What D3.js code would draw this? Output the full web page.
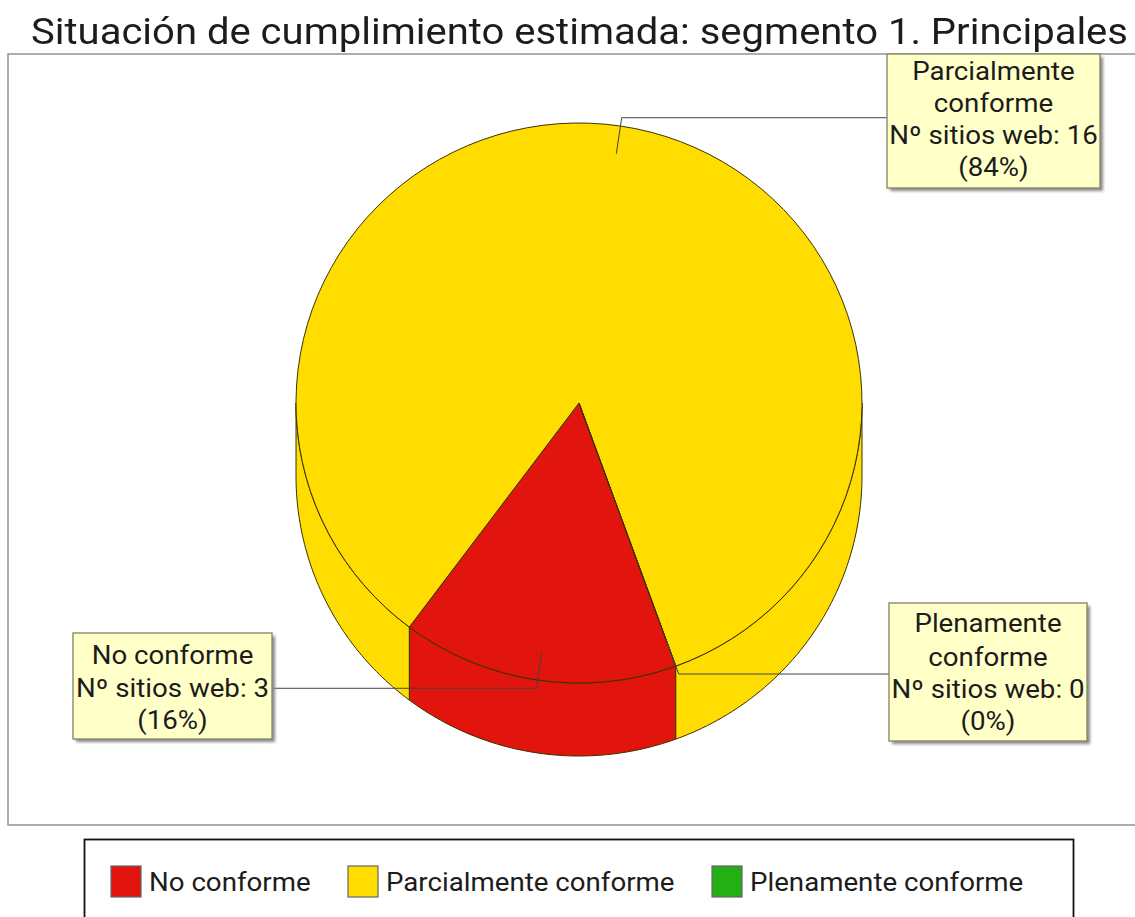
<!DOCTYPE html>
<html><head><meta charset="utf-8">
<script src="https://cdn.jsdelivr.net/npm/d3@7"></script>
<style>html,body{margin:0;padding:0;background:#fff;overflow:hidden}svg{display:block;filter:blur(0.45px)}text{font-family:Roboto,sans-serif;fill:#1c1c1c}</style>
</head><body><svg id="c" width="1135" height="917"></svg>
<script>
(function(){
const titleText = "Situación de cumplimiento estimada: segmento 1. Principales";
const categories = ["No conforme","Parcialmente conforme","Plenamente conforme"];
const siteCounts = [3,16,0];
const percentLabels = ["(16%)","(84%)","(0%)"];
const countLabels = ["Nº sitios web: 3","Nº sitios web: 16","Nº sitios web: 0"];
const labelLines = [["No conforme"],["Parcialmente","conforme"],["Plenamente","conforme"]];
const colors = ["#E2140E","#FFDD00","#22B014"];

const svg = d3.select("#c");
const defs = svg.append("defs");
defs.append("filter").attr("id","soft").attr("x","-10%").attr("y","-10%").attr("width","120%").attr("height","120%")
  .append("feGaussianBlur").attr("stdDeviation",1.5);

const W=1135, cx=579, cy=403, rx=283, ry=280, depth=73, stretch=1.085;
const deg=Math.PI/180;
const start=160*deg;
const pie=d3.pie().sort(null).value(d=>d).startAngle(start).endAngle(start+2*Math.PI);
const arcs=pie(siteCounts);
const yScale=d3.scaleLinear().domain([0,1]).range([0,ry/rx]);
const ex=(a,k=1)=>rx*k*Math.sin(a);
const ey=(a,k=1)=>-rx*k*Math.cos(a)*yScale(1);
// The source picture is slightly wider than tall: widen text to match
function widen(sel){
  sel.each(function(){
    const n=this.getComputedTextLength();
    d3.select(this).attr("textLength",n*stretch).attr("lengthAdjust","spacingAndGlyphs");
  });
}

// Title
svg.append("text").attr("x",31).attr("y",44).attr("font-size",36).attr("textLength",1097).attr("lengthAdjust","spacingAndGlyphs").text(titleText);

// Plot frame
svg.append("rect").attr("x",8).attr("y",54).attr("width",W+20).attr("height",771).attr("fill","#fff").attr("stroke","#999").attr("stroke-width",1.6);

const g=svg.append("g").attr("transform",`translate(${cx},${cy})`);

// Visible side walls: intersect each slice with the front half
function wall(a0,a1){
  const p=d3.path();
  p.moveTo(ex(a0),ey(a0));
  p.lineTo(ex(a0),ey(a0)+depth);
  const n=60;
  d3.range(1,n+1).forEach(i=>{const a=a0+(a1-a0)*i/n;p.lineTo(ex(a),ey(a)+depth);});
  d3.range(n,-1,-1).forEach(i=>{const a=a0+(a1-a0)*i/n;p.lineTo(ex(a),ey(a));});
  p.closePath();
  return p.toString();
}
const front=[[90*deg,270*deg],[450*deg,630*deg]];
arcs.forEach((d,i)=>{
  front.forEach(([f0,f1])=>{
    const a0=Math.max(d.startAngle,f0), a1=Math.min(d.endAngle,f1);
    if(a1>a0) g.append("path").attr("d",wall(a0,a1)).attr("fill",colors[i]).attr("stroke","#3a3000").attr("stroke-width",1);
  });
});

// Top face
const arc=d3.arc().innerRadius(0).outerRadius(rx);
const face=g.append("g").attr("transform",`scale(1,${yScale(1)})`);
face.selectAll("path").data(arcs).join("path").attr("d",arc).attr("fill",(d,i)=>colors[i])
  .attr("stroke","#3a3000").attr("stroke-width",1);

// Leader lines
const mid=d=>(d.startAngle+d.endAngle)/2;
const ends=[273,887,889];
arcs.forEach((d,i)=>{
  const a=mid(d);
  const pts=[[cx+ex(a,0.9),cy+ey(a,0.9)],[cx+ex(a,1.03),cy+ey(a,1.03)]];
  pts.push([ends[i],pts[1][1]]);
  svg.append("path").attr("d",d3.line()(pts)).attr("fill","none").attr("stroke","#444").attr("stroke-width",1);
});

// Label boxes
const boxes=[{x:73,y:633,w:199,h:106,b:[664,697,729]},{x:887,y:54,w:213,h:134,b:[80,112,144,176]},{x:889,y:603,w:198,h:138,b:[632,666,698,730]}];
categories.forEach((c,i)=>{
  const b=boxes[i];
  svg.append("rect").attr("x",b.x+3).attr("y",b.y+3).attr("width",b.w).attr("height",b.h).attr("fill","#888").attr("filter","url(#soft)");
  svg.append("rect").attr("x",b.x).attr("y",b.y).attr("width",b.w).attr("height",b.h).attr("fill","#FFFFC8").attr("stroke","#8a8a70").attr("stroke-width",1.4);
  const lines=[...labelLines[i],countLabels[i],percentLabels[i]];
  svg.append("g").selectAll("text").data(lines).join("text")
    .attr("x",b.x+b.w/2).attr("y",(d,k)=>b.b[k]).attr("text-anchor","middle").attr("font-size",25.5).text(d=>d).call(widen);
});

// Legend
svg.append("rect").attr("x",84.5).attr("y",839.5).attr("width",989).attr("height",100).attr("fill","#fff").attr("stroke","#111").attr("stroke-width",1.8);
const swatchX=[111,348,712];
categories.forEach((c,i)=>{
  svg.append("rect").attr("x",swatchX[i]).attr("y",866).attr("width",30).attr("height",31).attr("fill",colors[i]).attr("stroke","#666").attr("stroke-width",1.2);
  svg.append("text").attr("x",swatchX[i]+38).attr("y",891).attr("font-size",25.5).text(c).call(widen);
});
})();
</script></body></html>
